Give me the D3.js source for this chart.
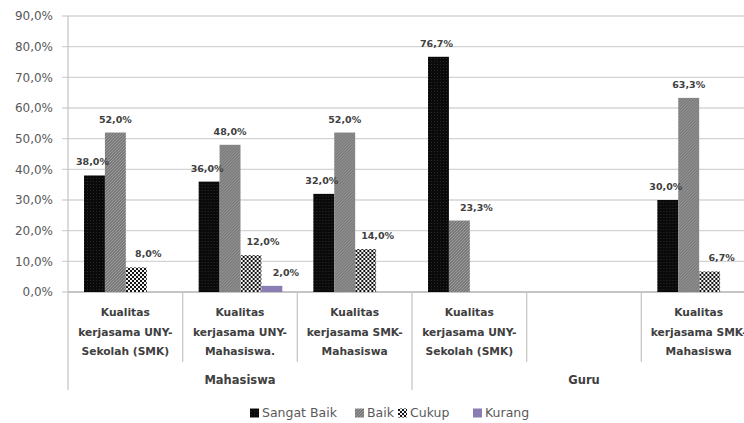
<!DOCTYPE html>
<html><head><meta charset="utf-8">
<script src="https://cdn.jsdelivr.net/npm/d3@7"></script>
<style>
html,body{margin:0;padding:0;background:#fff;overflow:hidden}
svg{display:block;font-family:"DejaVu Sans",sans-serif}
</style></head>
<body><svg id="c" width="744" height="423"></svg>
<script>
// ---- data ----
const groups = ["Mahasiswa", "Guru"];
const categories = [
  ["Kualitas", "kerjasama UNY-", "Sekolah (SMK)"],
  ["Kualitas", "kerjasama UNY-", "Mahasiswa."],
  ["Kualitas", "kerjasama SMK-", "Mahasiswa"],
  ["Kualitas", "kerjasama UNY-", "Sekolah (SMK)"],
  [""],
  ["Kualitas", "kerjasama SMK-", "Mahasiswa"]
];
const categoryGroup = [0, 0, 0, 1, 1, 1];
const seriesNames = ["Sangat Baik", "Baik", "Cukup", "Kurang"];
const sangatBaik = [38.0, 36.0, 32.0, 76.7, null, 30.0];
const baik       = [52.0, 48.0, 52.0, 23.3, null, 63.3];
const cukup      = [8.0, 12.0, 14.0, null, null, 6.7];
const kurang     = [null, 2.0, null, null, null, null];
const yTicks = [0, 10, 20, 30, 40, 50, 60, 70, 80, 90];

const series = [sangatBaik, baik, cukup, kurang];

// ---- layout ----
const svg = d3.select("#c");
const pLeft = 68, pRight = 756, pTop = 16, pBottom = 292;
const x0 = d3.scaleBand().domain(d3.range(categories.length)).range([pLeft, pRight]).paddingInner(0).paddingOuter(0);
const x1 = d3.scaleBand().domain(d3.range(series.length)).range([16, x0.bandwidth() - 15]).padding(0);
const y = d3.scaleLinear().domain([0, 90]).range([pBottom, pTop]);
const fmt = v => d3.format(".1f")(v).replace(".", ",") + "%";

// patterns
const defs = svg.append("defs");
const p0 = defs.append("pattern").attr("id","pSB").attr("width",3).attr("height",3).attr("patternUnits","userSpaceOnUse");
p0.append("rect").attr("width",3).attr("height",3).attr("fill","#0a0a0a");
p0.append("rect").attr("x",1).attr("y",1).attr("width",1).attr("height",1).attr("fill","#2a2a2a");
const p1 = defs.append("pattern").attr("id","pB").attr("width",3).attr("height",3).attr("patternUnits","userSpaceOnUse");
p1.append("rect").attr("width",3).attr("height",3).attr("fill","#7a7a7a");
p1.append("path").attr("d","M0,3 L3,0").attr("stroke","#9a9a9a").attr("stroke-width",1);
const p2 = defs.append("pattern").attr("id","pC").attr("width",4).attr("height",4).attr("patternUnits","userSpaceOnUse");
p2.append("rect").attr("width",4).attr("height",4).attr("fill","#f4f4f4");
p2.append("rect").attr("width",2).attr("height",2).attr("fill","#151515");
p2.append("rect").attr("x",2).attr("y",2).attr("width",2).attr("height",2).attr("fill","#151515");
const fills = ["url(#pSB)", "url(#pB)", "url(#pC)", "#8a7db3"];

// gridlines
svg.append("g").selectAll("line").data(yTicks).join("line")
  .attr("x1", pLeft - 6).attr("x2", pRight)
  .attr("y1", d => y(d)).attr("y2", d => y(d))
  .attr("stroke", "#d4d4d4").attr("stroke-width", 1.3);

// y labels
svg.append("g").selectAll("text").data(yTicks).join("text")
  .attr("x", 53).attr("y", d => y(d)).attr("dy", "0.35em")
  .attr("text-anchor", "end").attr("font-size", 12).attr("fill", "#595959")
  .text(d => fmt(d));

// vertical axis line & category separators
svg.append("line").attr("x1", pLeft).attr("x2", pLeft).attr("y1", pTop).attr("y2", 390)
  .attr("stroke", "#c8c8c8").attr("stroke-width", 1.3);
svg.append("line").attr("x1", pLeft).attr("x2", pRight).attr("y1", pBottom).attr("y2", pBottom)
  .attr("stroke", "#bdbdbd").attr("stroke-width", 1.3);
const seps = d3.range(1, categories.length + 1);
svg.append("g").selectAll("line").data(seps).join("line")
  .attr("x1", d => x0(d) ?? pRight).attr("x2", d => x0(d) ?? pRight)
  .attr("y1", pBottom)
  .attr("y2", d => (d < categories.length && categoryGroup[d] !== categoryGroup[d - 1]) || d === categories.length ? 390 : 362)
  .attr("stroke", "#c8c8c8").attr("stroke-width", 1.3);

// bars
const labelDx = [-2, 0, 12, 14];
const cats = svg.append("g").selectAll("g").data(d3.range(categories.length)).join("g")
  .attr("transform", d => `translate(${x0(d)},0)`);
cats.each(function(ci) {
  const g = d3.select(this);
  const vals = series.map((s, si) => ({si, v: s[ci]})).filter(d => d.v != null && d.v > 0);
  g.selectAll("rect").data(vals).join("rect")
    .attr("x", d => x1(d.si)).attr("width", x1.bandwidth())
    .attr("y", d => y(d.v)).attr("height", d => y(0) - y(d.v))
    .attr("fill", d => fills[d.si]);
  g.selectAll("text").data(vals).join("text")
    .attr("x", d => x1(d.si) + x1.bandwidth() / 2 + labelDx[d.si] + (ci === 3 && d.si === 1 ? 17 : 0))
    .attr("y", d => y(d.v) - 10)
    .attr("text-anchor", "middle").attr("font-size", 9.5).attr("font-weight", "bold").attr("fill", "#404040")
    .text(d => fmt(d.v));
});

// category labels
cats.each(function(ci) {
  const t = d3.select(this).append("text")
    .attr("text-anchor", "middle").attr("font-size", 10.7).attr("font-weight", "bold").attr("fill", "#404040");
  categories[ci].forEach((line, i) => {
    t.append("tspan").attr("x", x0.bandwidth() / 2).attr("y", 316 + i * 19.5).text(line);
  });
});

// group labels
groups.forEach((gname, gi) => {
  const idx = categoryGroup.map((g, i) => g === gi ? i : -1).filter(i => i >= 0);
  const x = (x0(idx[0]) + x0(idx[idx.length - 1]) + x0.bandwidth()) / 2;
  svg.append("text").attr("x", x).attr("y", 384)
    .attr("text-anchor", "middle").attr("font-size", 11.5).attr("font-weight", "bold").attr("fill", "#404040")
    .text(gname);
});

// legend
const legX = [250, 355, 398, 473];
const leg = svg.append("g").selectAll("g").data(seriesNames).join("g")
  .attr("transform", (d, i) => `translate(${legX[i]},413)`);
leg.append("rect").attr("x", 0).attr("y", -4.5).attr("width", 9).attr("height", 9).attr("fill", (d, i) => fills[i]);
leg.append("text").attr("x", 12).attr("dy", "0.35em").attr("font-size", 12.5).attr("fill", "#595959").text(d => d);
</script></body></html>
